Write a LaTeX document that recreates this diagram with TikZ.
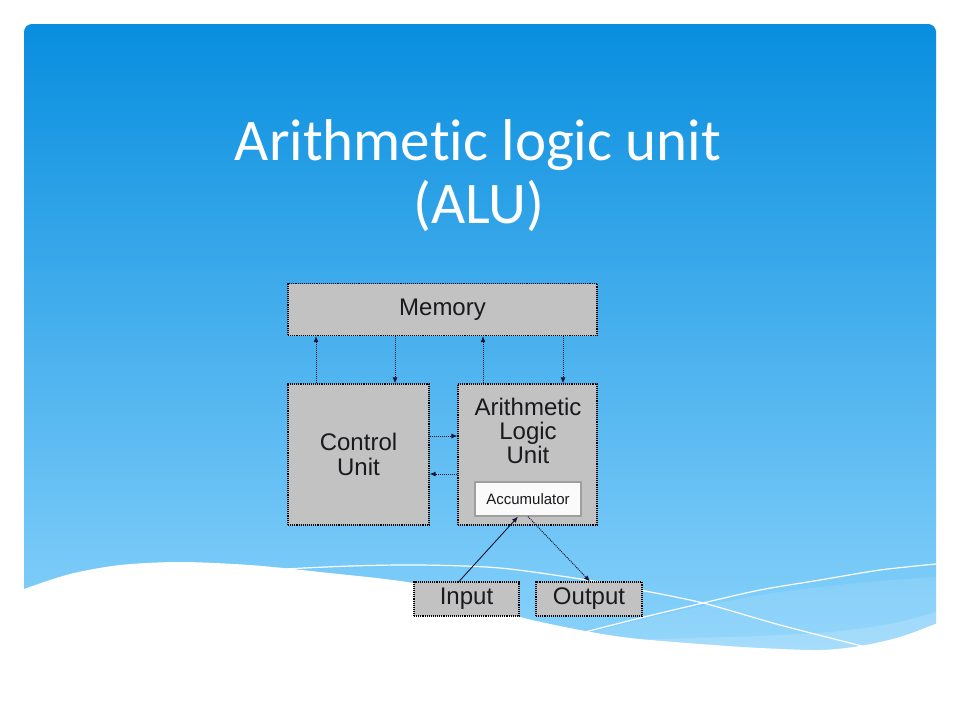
\documentclass[tikz,border=0pt]{standalone}
\usepackage{fontspec}
\setmainfont{Liberation Sans}
\newfontfamily\titlefont[Ligatures={NoCommon,NoDiscretionary,NoContextual}]{Carlito}
\usetikzlibrary{arrows.meta}
\definecolor{paneltop}{RGB}{8,142,223}
\definecolor{panelbot}{RGB}{140,212,252}
\definecolor{boxgray}{RGB}{194,194,194}
\definecolor{inkc}{RGB}{25,25,30}
\definecolor{linec}{RGB}{20,20,50}
\tikzset{
  unitbox/.style={draw=black, densely dotted, line width=1.1pt, fill=boxgray,
    inner sep=0pt, text=inkc, font=\fontsize{24}{25}\selectfont, align=center},
  accbox/.style={draw=gray!75, line width=1.3pt, fill=white!96!gray,
    inner sep=0pt, minimum width=106pt, minimum height=34pt, text=inkc,
    font=\fontsize{15}{17}\selectfont},
  lbl/.style={text=inkc, font=\fontsize{24}{24}\selectfont, align=center, inner sep=0pt},
  arr/.style={draw=linec, densely dotted, line width=1pt, -{Latex[length=6pt,width=5pt]}},
  sarr/.style={draw=linec, line width=0.9pt, -{Latex[length=6pt,width=5pt]}},
  titletext/.style={text=white, font=\titlefont\fontsize{59}{63}\selectfont, inner sep=0pt},
  waveline/.style={draw=white, line width=1.2pt}
}
\begin{document}
\begin{tikzpicture}[x=1pt,y=1pt]
\useasboundingbox (0,0) rectangle (960,-720);
\fill[white] (0,0) rectangle (960,-720);
% panel
\shade[top color=paneltop, bottom color=panelbot, rounded corners=8pt] (24,-24) rectangle (936,-665);
% lighter bands
\fill[white, opacity=0.10] plot[smooth] coordinates {(585,-634) (640,-620) (703,-606) (760,-595) (820,-587) (880,-581) (936,-577)} -- (936,-720) -- (585,-720) -- cycle;
\fill[white, opacity=0.16] plot[smooth] coordinates {(630,-640) (690,-638) (760,-636) (830,-632) (890,-624) (936,-612)} -- (936,-720) -- (630,-720) -- cycle;
% white lines
\draw[waveline] plot[smooth] coordinates {(285,-569) (350,-566) (420,-565) (500,-568) (587,-580) (640,-590) (703,-603) (780,-625) (862,-646)};
\draw[waveline] plot[smooth] coordinates {(585,-632) (640,-618) (703,-603) (760,-590) (820,-580) (880,-570) (936,-564)};
% white wave
\fill[white] plot[smooth] coordinates {(0,-598) (24,-589) (70,-574) (120,-565) (180,-562) (250,-565) (320,-572) (413,-583) (470,-600) (520,-617) (580,-630) (630,-638) (700,-644) (760,-648) (820,-650) (860,-646) (900,-637) (940,-622) (960,-612)} -- (960,-720) -- (0,-720) -- cycle;
% title
\node[titletext, anchor=base] (t1) at (478,-160) {Arithmetic logic unit};
\node[titletext, anchor=base] (t2) at (479,-223) {(ALU)};
% boxes
\node[unitbox, minimum width=309pt, minimum height=52pt] (mem) at (442.5,-309.5) {Memory};
\node[unitbox, minimum width=141pt, minimum height=141pt] (ctrl) at (358.5,-454.5) {Control\\Unit};
\node[unitbox, minimum width=139pt, minimum height=141pt] (alu) at (527.5,-454.5) {};
\node[lbl] (alulbl) at (528,-431) {Arithmetic\\Logic\\Unit};
\node[accbox] (acc) at (528,-499) {Accumulator};
\node[unitbox, minimum width=105pt, minimum height=34pt] (inp) at (466.5,-599) {Input};
\node[unitbox, minimum width=106pt, minimum height=34pt] (outp) at (589,-599) {Output};
% helper coordinates
\coordinate (x1) at (316,0);
\coordinate (x2) at (395,0);
\coordinate (x3) at (483,0);
\coordinate (x4) at (563,0);
\coordinate (y1) at (0,-436);
\coordinate (y2) at (0,-474);
\coordinate (ia) at (459,-582);
\coordinate (ib) at (518,-516);
\coordinate (oa) at (528,-516);
\coordinate (ob) at (590,-582);
% connectors
\draw[arr] (x1 |- ctrl.north) -- (x1 |- mem.south);
\draw[arr] (x2 |- mem.south) -- (x2 |- ctrl.north);
\draw[arr] (x3 |- alu.north) -- (x3 |- mem.south);
\draw[arr] (x4 |- mem.south) -- (x4 |- alu.north);
\draw[arr] (ctrl.east |- y1) -- (alu.west |- y1);
\draw[arr] (alu.west |- y2) -- (ctrl.east |- y2);
\draw[sarr] (inp.north -| ia) -- (acc.south -| ib);
\draw[arr] (acc.south -| oa) -- (outp.north -| ob);
\end{tikzpicture}
\end{document}
